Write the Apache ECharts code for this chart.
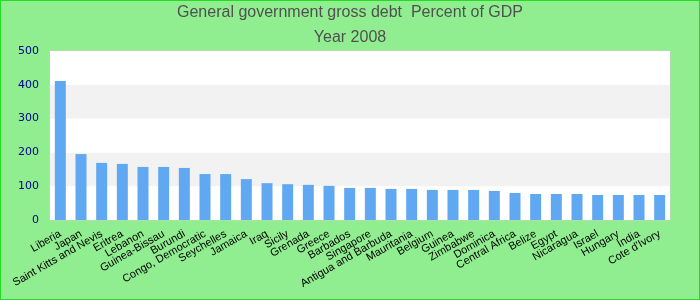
<!DOCTYPE html>
<html><head><meta charset="utf-8">
<script src="https://cdn.jsdelivr.net/npm/echarts@6/dist/echarts.min.js"></script>
<style>html,body{margin:0;padding:0;background:#90ee90}#c{width:698px;height:298px;border:1px solid #22dd22;}</style>
</head><body><div id="c"></div>
<script>
const titleText = 'General government gross debt  Percent of GDP';
const subTitle = 'Year 2008';
const categories = ['Liberia','Japan','Saint Kitts and Nevis','Eritrea','Lebanon','Guinea-Bissau','Burundi','Congo, Democratic','Seychelles','Jamaica','Iraq','Sicily','Grenada','Greece','Barbados','Singapore','Antigua and Barbuda','Mauritania','Belgium','Guinea','Zimbabwe','Dominica','Central Africa','Belize','Egypt','Nicaragua','Israel','Hungary','India',"Cote d'Ivory"];
const debt = [411,195,169,166,157,157,154,136,136,121,109,106,104,101,95,95,92,92,89,89,89,86,80,77,77,77,74,74,74,74];
const yTicks = {min:0,max:500,interval:100};

const tStyle = {fontFamily:'Liberation Sans, Arial',fontSize:16,fontWeight:'normal',color:'#505050'};
const chart = echarts.init(document.getElementById('c'));
chart.setOption({
  backgroundColor:'#90ee90',
  animation:false,
  title:[{text:titleText,left:'center',top:-1,textStyle:tStyle},
         {text:subTitle,left:'center',top:24,textStyle:tStyle}],
  grid:{left:49,right:29,top:50,bottom:79,show:true,backgroundColor:'#fff',borderColor:'#cccccc',borderWidth:1},
  xAxis:{type:'category',data:categories,
    axisLine:{show:false},axisTick:{show:false},
    axisLabel:{interval:0,rotate:30,fontSize:11,color:'#000',fontFamily:'Liberation Sans, Arial',margin:13}},
  yAxis:{type:'value',min:yTicks.min,max:yTicks.max,interval:yTicks.interval,
    axisLine:{show:false},axisTick:{show:false},splitLine:{show:false},
    splitArea:{show:true,areaStyle:{color:['#ffffff','#f2f2f2']}},
    axisLabel:{fontSize:11,color:'#00008b',fontFamily:'DejaVu Sans',margin:11}},
  series:[{type:'bar',data:debt,barWidth:11,itemStyle:{color:'#61a8f3'}}]
});
</script></body></html>
